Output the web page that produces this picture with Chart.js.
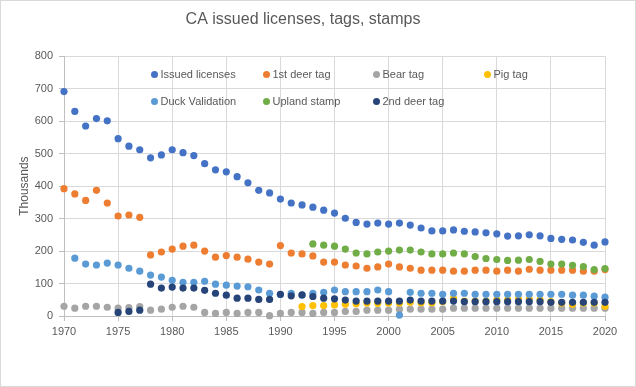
<!DOCTYPE html>
<html>
<head>
<meta charset="utf-8">
<script src="https://cdn.jsdelivr.net/npm/chart.js@4/dist/chart.umd.min.js"></script>
<style>
  body { margin: 0; background: #fff; }
  #wrap { position: relative; width: 636px; height: 387px; box-sizing: border-box; border: 1px solid #d9d9d9; }
  #legend { position: absolute; left: 0; top: 0; font: 11px 'Liberation Sans', sans-serif; color: #595959; }
  .item { position: absolute; white-space: nowrap; line-height: 14px; }
  .dot { display: inline-block; width: 7px; height: 7px; border-radius: 50%; margin-right: 3px; vertical-align: -0px; }
</style>
</head>
<body>
<div id="wrap">
  <canvas id="chart" width="634" height="385"></canvas>
  <div id="legend"></div>
</div>
<script>
// values in thousands, one per year, null where the series has no value
const years = [1970, 1971, 1972, 1973, 1974, 1975, 1976, 1977, 1978, 1979,
  1980, 1981, 1982, 1983, 1984, 1985, 1986, 1987, 1988, 1989,
  1990, 1991, 1992, 1993, 1994, 1995, 1996, 1997, 1998, 1999,
  2000, 2001, 2002, 2003, 2004, 2005, 2006, 2007, 2008, 2009,
  2010, 2011, 2012, 2013, 2014, 2015, 2016, 2017, 2018, 2019, 2020];

const issuedLicenses = [691, 630, 585, 608, 601, 546, 523, 512, 487, 496,
  512, 503, 494, 469, 450, 444, 429, 410, 387, 379,
  360, 348, 342, 335, 326, 317, 301, 288, 283, 286,
  283, 286, 280, 271, 262, 262, 265, 261, 259, 256,
  253, 246, 247, 250, 247, 239, 236, 234, 227, 218, 228];

const firstDeerTag = [392, 376, 356, 387, 348, 308, 311, 304, 188, 197,
  206, 215, 218, 200, 181, 186, 181, 175, 166, 160,
  217, 194, 191, 185, 166, 166, 157, 154, 147, 151,
  160, 151, 147, 141, 141, 141, 138, 138, 141, 141,
  138, 141, 138, 144, 141, 141, 141, 141, 138, 138, 143];

const bearTag = [30, 24, 30, 30, 27, 24, 26, 29, 18, 21,
  27, 30, 27, 11, 8, 11, 8, 11, 11, 1,
  8, 11, 11, 8, 11, 11, 14, 14, 18, 18,
  18, 21, 21, 21, 21, 21, 24, 24, 24, 24,
  24, 24, 24, 24, 24, 24, 24, 24, 24, 24, 24];

const pigTag = [null, null, null, null, null, null, null, null, null, null,
  null, null, null, null, null, null, null, null, null, null,
  null, null, 29, 32, 32, 34, 36, 38, 40, 39,
  40, 40, 42, 41, 41, 44, 54, 46, 46, 46,
  50, 50, 52, 52, 50, 44, 40, 36, 40, 40, 30];

const duckValidation = [null, 178, 160, 157, 163, 157, 147, 138, 126, 120,
  110, 104, 104, 107, 98, 95, 92, 90, 80, 70,
  66, 70, 64, 70, 73, 80, 75, 75, 75, 80,
  75, 3, 73, 70, 70, 67, 70, 70, 67, 67,
  67, 67, 67, 67, 67, 67, 67, 64, 64, 61, 58];

const uplandStamp = [null, null, null, null, null, null, null, null, null, null,
  null, null, null, null, null, null, null, null, null, null,
  null, null, null, 222, 218, 215, 206, 194, 191, 197,
  200, 203, 203, 197, 191, 191, 194, 191, 183, 177,
  174, 171, 172, 174, 168, 160, 160, 156, 152, 143, 146];

const secondDeerTag = [null, null, null, null, null, 11, 14, 18, 98, 86,
  89, 86, 86, 79, 70, 64, 55, 55, 51, 51,
  67, 62, 65, 60, 55, 53, 49, 46, 46, 46,
  46, 46, 49, 46, 46, 46, 46, 44, 44, 44,
  44, 44, 44, 44, 44, 42, 42, 42, 42, 42, 42];

const seriesNames = ['Issued licenses', '1st deer tag', 'Bear tag', 'Pig tag',
  'Duck Validation', 'Upland stamp', '2nd deer tag'];
const seriesValues = [issuedLicenses, firstDeerTag, bearTag, pigTag,
  duckValidation, uplandStamp, secondDeerTag];
const seriesColors = ['#4472C4', '#ED7D31', '#A5A5A5', '#FFC000',
  '#5B9BD5', '#70AD47', '#264478'];

function toPoints(values) {
  const pts = [];
  years.forEach((yr, i) => {
    if (values[i] !== null) pts.push({ x: yr, y: values[i] });
  });
  return pts;
}

const datasets = seriesNames.map((name, i) => ({
  label: name,
  data: toPoints(seriesValues[i]),
  backgroundColor: seriesColors[i],
  borderColor: seriesColors[i],
  borderWidth: 0,
  pointRadius: 3.6,
  clip: false,
  order: seriesNames.length - i   // later series drawn on top, like Excel
}));

// legend sits inside the plot area, 4 columns x 2 rows
const legendPos = [[154, 74], [266, 74], [376, 74], [487, 74],
  [154, 101], [266, 101], [376, 101]];
const legendEl = document.getElementById('legend');
seriesNames.forEach((name, i) => {
  const item = document.createElement('div');
  item.className = 'item';
  item.style.left = (legendPos[i][0] - 4.5) + 'px';
  item.style.top = (legendPos[i][1] - 8) + 'px';
  item.innerHTML = '<span class="dot" style="background:' + seriesColors[i] + '"></span>' + name;
  legendEl.appendChild(item);
});

const textColor = '#595959';
const fontFamily = "'Liberation Sans', sans-serif";

new Chart(document.getElementById('chart'), {
  type: 'scatter',
  data: { datasets: datasets },
  options: {
    responsive: false,
    animation: false,
    layout: { padding: { left: 0, right: 30, top: 0, bottom: 0 } },
    plugins: {
      legend: { display: false },
      tooltip: { enabled: false },
      title: {
        display: true,
        text: 'CA issued licenses, tags, stamps',
        color: textColor,
        font: { family: fontFamily, size: 16, weight: 'normal' },
        padding: { top: 9, bottom: 27 }
      }
    },
    scales: {
      x: {
        type: 'linear',
        min: 1970,
        max: 2020,
        afterFit: s => { s.height = 70; },
        ticks: {
          stepSize: 5,
          color: textColor,
          font: { family: fontFamily, size: 11 },
          padding: 4,
          callback: v => String(v)
        },
        grid: { color: '#d9d9d9', tickColor: '#bfbfbf', tickLength: 5 },
        border: { color: '#bfbfbf' }
      },
      y: {
        min: 0,
        max: 800,
        afterFit: s => { s.width = 63; },
        ticks: {
          stepSize: 100,
          color: textColor,
          font: { family: fontFamily, size: 11 },
          padding: 6
        },
        grid: { color: '#d9d9d9', tickColor: '#bfbfbf', tickLength: 5 },
        border: { color: '#bfbfbf' },
        title: {
          display: true,
          text: 'Thousands',
          color: textColor,
          font: { family: fontFamily, size: 12 },
          padding: { top: 16, bottom: 0 }
        }
      }
    }
  }
});
</script>
</body>
</html>
